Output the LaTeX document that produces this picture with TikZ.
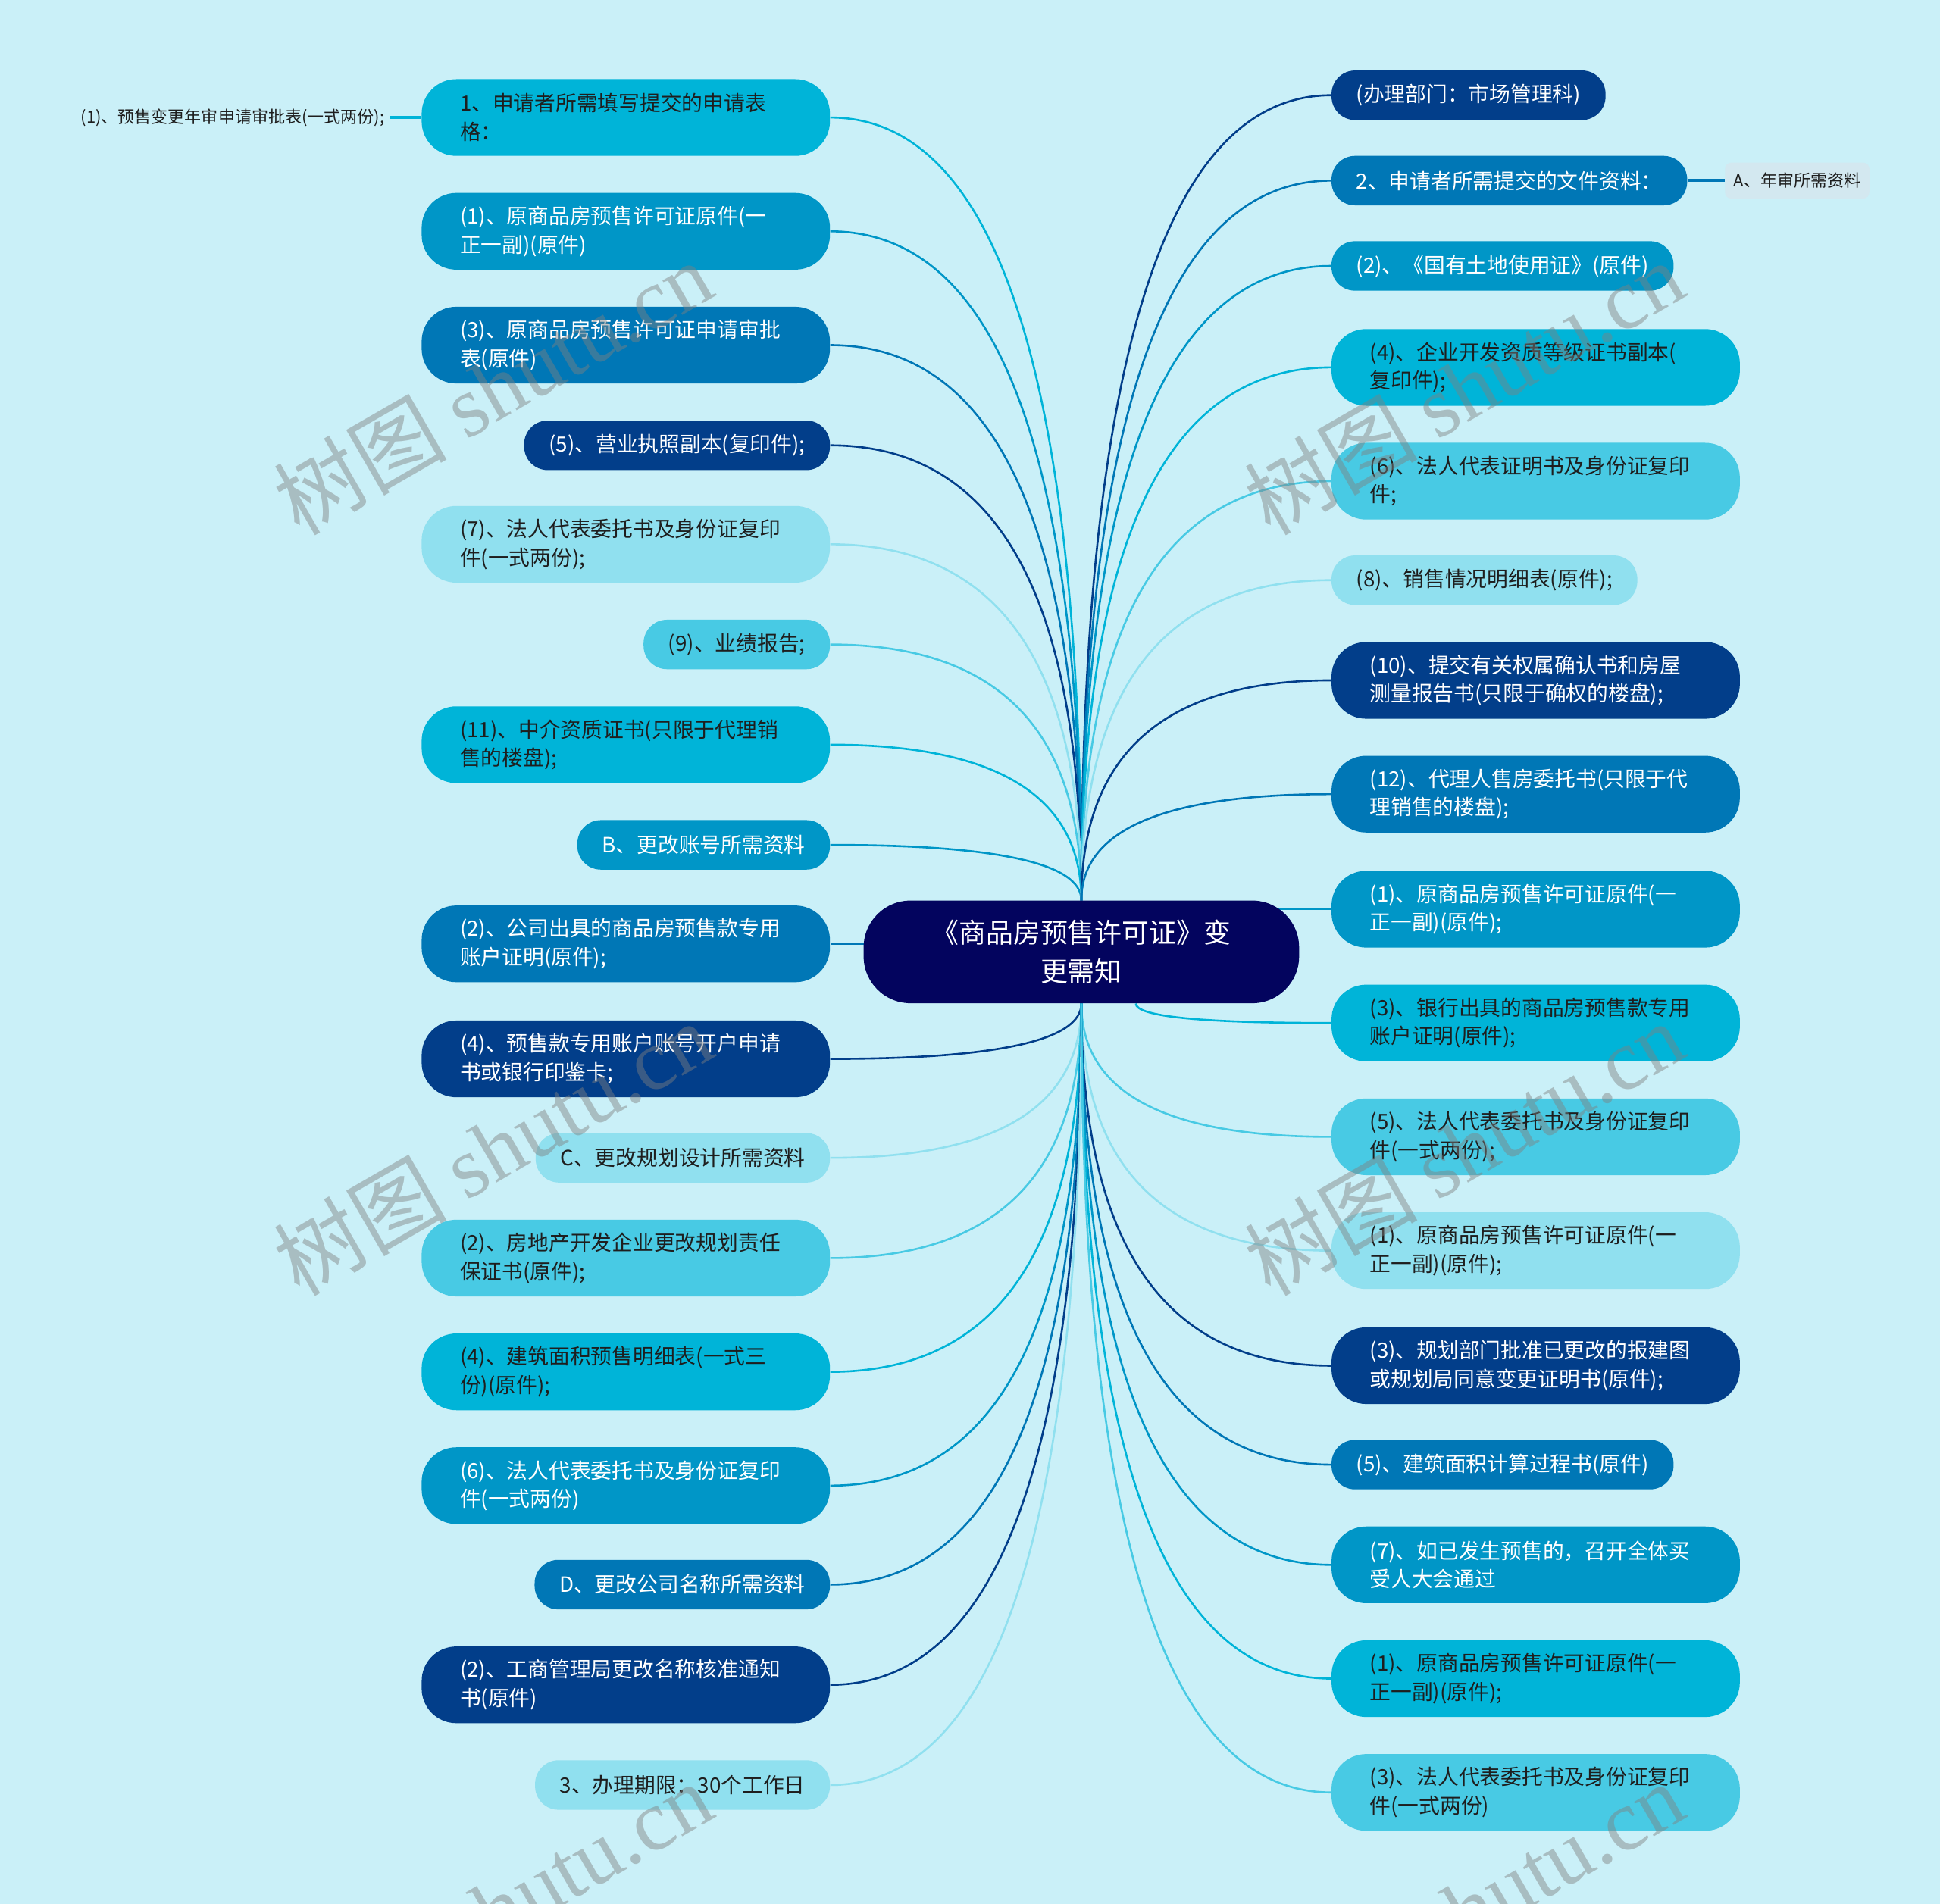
\documentclass[tikz,border=0pt]{standalone}
\usepackage{fontspec}
\setmainfont{Noto Sans CJK SC}
\newfontfamily\marksans{Noto Sans CJK SC}
\newfontfamily\markserif{Liberation Serif}
\usetikzlibrary{calc,backgrounds}
\definecolor{bgcol}{HTML}{CAF0F8}
\definecolor{rootcol}{HTML}{03045E}
\definecolor{c1}{HTML}{023E8A}
\definecolor{c2}{HTML}{0077B6}
\definecolor{c3}{HTML}{0096C7}
\definecolor{c4}{HTML}{00B4D8}
\definecolor{c5}{HTML}{48CAE4}
\definecolor{c6}{HTML}{90E0EF}
\definecolor{leafcol}{HTML}{D3E8F0}
\definecolor{inkcol}{HTML}{1E1E1E}
\begin{document}
\begin{tikzpicture}[x=1pt, y=-1pt,
    hub/.style={fill=rootcol, text=white, rounded corners=38pt, minimum width=352pt, minimum height=83pt, inner sep=0pt, align=center, font=\fontsize{22}{31}\selectfont},
    pill/.style={rounded corners=19pt, minimum height=40pt, inner xsep=20pt, inner ysep=0pt, font=\fontsize{17}{23}\selectfont},
    pill2/.style={rounded corners=28pt, minimum height=62pt, text width=268pt, inner xsep=31pt, inner ysep=0pt, align=left, font=\fontsize{17}{23}\selectfont},
    deep/.style={fill=#1, text=white},
    pale/.style={fill=#1, text=inkcol},
    leaf/.style={fill=leafcol, text=inkcol, rounded corners=5pt, minimum height=29pt, inner xsep=7pt, inner ysep=0pt, font=\fontsize{13.5}{16}\selectfont},
    note/.style={text=inkcol, inner xsep=4pt, inner ysep=0pt, font=\fontsize{13.5}{16}\selectfont},
    link/.style={draw=#1, line width=1.6pt},
    stub/.style={draw=#1, line width=2.6pt},
    branch/.style={to path={.. controls ($(\tikztostart)!0.667!(\tikztostart|-\tikztotarget)$) and ($(\tikztotarget)!0.667!(\tikztostart|-\tikztotarget)$) .. (\tikztotarget)}},
    stamp/.style={text=gray, opacity=0.45, rotate=30, inner sep=0pt, font=\fontsize{70}{70}\selectfont}]
    \useasboundingbox (0,0) rectangle (1568,1539);
    % centre
    \node (notice) [hub] at (874,769.5) {《商品房预售许可证》变\\更需知};
    % left side
    \node (l1)  [pill2, pale=c4, anchor=east] at (671,95)   {1、申请者所需填写提交的申请表\\格：};
    \node (l2)  [pill2, deep=c3, anchor=east] at (671,187)  {(1)、原商品房预售许可证原件(一\\正一副)(原件)};
    \node (l3)  [pill2, deep=c2, anchor=east] at (671,279)  {(3)、原商品房预售许可证申请审批\\表(原件)};
    \node (l4)  [pill,  deep=c1, anchor=east] at (671,360)  {(5)、营业执照副本(复印件);};
    \node (l5)  [pill2, pale=c6, anchor=east] at (671,440)  {(7)、法人代表委托书及身份证复印\\件(一式两份);};
    \node (l6)  [pill,  pale=c5, anchor=east] at (671,521)  {(9)、业绩报告;};
    \node (l7)  [pill2, pale=c4, anchor=east] at (671,602)  {(11)、中介资质证书(只限于代理销\\售的楼盘);};
    \node (l8)  [pill,  deep=c3, anchor=east] at (671,683)  {B、更改账号所需资料};
    \node (l9)  [pill2, deep=c2, anchor=east] at (671,763)  {(2)、公司出具的商品房预售款专用\\账户证明(原件);};
    \node (l10) [pill2, deep=c1, anchor=east] at (671,856)  {(4)、预售款专用账户账号开户申请\\书或银行印鉴卡;};
    \node (l11) [pill,  pale=c6, anchor=east] at (671,936)  {C、更改规划设计所需资料};
    \node (l12) [pill2, pale=c5, anchor=east] at (671,1017) {(2)、房地产开发企业更改规划责任\\保证书(原件);};
    \node (l13) [pill2, pale=c4, anchor=east] at (671,1109) {(4)、建筑面积预售明细表(一式三\\份)(原件);};
    \node (l14) [pill2, deep=c3, anchor=east] at (671,1201) {(6)、法人代表委托书及身份证复印\\件(一式两份)};
    \node (l15) [pill,  deep=c2, anchor=east] at (671,1281) {D、更改公司名称所需资料};
    \node (l16) [pill2, deep=c1, anchor=east] at (671,1362) {(2)、工商管理局更改名称核准通知\\书(原件)};
    \node (l17) [pill,  pale=c6, anchor=east] at (671,1443) {3、办理期限：30个工作日};
    \node (sub1) [note, anchor=east] at (315,95) {(1)、预售变更年审申请审批表(一式两份);};
    % right side
    \node (r1)  [pill,  deep=c1, anchor=west] at (1076,77)   {(办理部门：市场管理科)};
    \node (r2)  [pill,  deep=c2, anchor=west] at (1076,146)  {2、申请者所需提交的文件资料：};
    \node (r3)  [pill,  deep=c3, anchor=west] at (1076,215)  {(2)、《国有土地使用证》(原件)};
    \node (r4)  [pill2, pale=c4, anchor=west] at (1076,297)  {(4)、企业开发资质等级证书副本(\\复印件);};
    \node (r5)  [pill2, pale=c5, anchor=west] at (1076,389)  {(6)、法人代表证明书及身份证复印\\件;};
    \node (r6)  [pill,  pale=c6, anchor=west] at (1076,469)  {(8)、销售情况明细表(原件);};
    \node (r7)  [pill2, deep=c1, anchor=west] at (1076,550)  {(10)、提交有关权属确认书和房屋\\测量报告书(只限于确权的楼盘);};
    \node (r8)  [pill2, deep=c2, anchor=west] at (1076,642)  {(12)、代理人售房委托书(只限于代\\理销售的楼盘);};
    \node (r9)  [pill2, deep=c3, anchor=west] at (1076,735)  {(1)、原商品房预售许可证原件(一\\正一副)(原件);};
    \node (r10) [pill2, pale=c4, anchor=west] at (1076,827)  {(3)、银行出具的商品房预售款专用\\账户证明(原件);};
    \node (r11) [pill2, pale=c5, anchor=west] at (1076,919)  {(5)、法人代表委托书及身份证复印\\件(一式两份);};
    \node (r12) [pill2, pale=c6, anchor=west] at (1076,1011) {(1)、原商品房预售许可证原件(一\\正一副)(原件);};
    \node (r13) [pill2, deep=c1, anchor=west] at (1076,1104) {(3)、规划部门批准已更改的报建图\\或规划局同意变更证明书(原件);};
    \node (r14) [pill,  deep=c2, anchor=west] at (1076,1184) {(5)、建筑面积计算过程书(原件)};
    \node (r15) [pill2, deep=c3, anchor=west] at (1076,1265) {(7)、如已发生预售的，召开全体买\\受人大会通过};
    \node (r16) [pill2, pale=c4, anchor=west] at (1076,1357) {(1)、原商品房预售许可证原件(一\\正一副)(原件);};
    \node (r17) [pill2, pale=c5, anchor=west] at (1076,1449) {(3)、法人代表委托书及身份证复印\\件(一式两份)};
    \node (sub2) [leaf, anchor=west] at (1394,146) {A、年审所需资料};
    % connectors, under the nodes
    \begin{scope}[on background layer]
        \fill [bgcol] (0,0) rectangle (1568,1539);
        \draw [stub=c4] (l1.west) -- (sub1.east);
        \draw [stub=c2] (r2.east) -- (sub2.west);
        % upper half
        \draw [link=c4, branch] (notice.north) to (l1.east);
        \draw [link=c3, branch] (notice.north) to (l2.east);
        \draw [link=c2, branch] (notice.north) to (l3.east);
        \draw [link=c1, branch] (notice.north) to (l4.east);
        \draw [link=c6, branch] (notice.north) to (l5.east);
        \draw [link=c5, branch] (notice.north) to (l6.east);
        \draw [link=c4, branch] (notice.north) to (l7.east);
        \draw [link=c3, branch] (notice.north) to (l8.east);
        \draw [link=c1, branch] (notice.north) to (r1.west);
        \draw [link=c2, branch] (notice.north) to (r2.west);
        \draw [link=c3, branch] (notice.north) to (r3.west);
        \draw [link=c4, branch] (notice.north) to (r4.west);
        \draw [link=c5, branch] (notice.north) to (r5.west);
        \draw [link=c6, branch] (notice.north) to (r6.west);
        \draw [link=c1, branch] (notice.north) to (r7.west);
        \draw [link=c2, branch] (notice.north) to (r8.west);
        % level with the centre
        \draw [link=c2] (l9.east) -- (l9.east -| notice.center);
        \draw [link=c3] (r9.west) -- (r9.west -| notice.center);
        % lower half
        \draw [link=c1, branch] (notice.south) to (l10.east);
        \draw [link=c6, branch] (notice.south) to (l11.east);
        \draw [link=c5, branch] (notice.south) to (l12.east);
        \draw [link=c4, branch] (notice.south) to (l13.east);
        \draw [link=c3, branch] (notice.south) to (l14.east);
        \draw [link=c2, branch] (notice.south) to (l15.east);
        \draw [link=c1, branch] (notice.south) to (l16.east);
        \draw [link=c6, branch] (notice.south) to (l17.east);
        \draw [link=c4, branch] ([xshift=44pt]notice.south) to (r10.west);
        \draw [link=c5, branch] (notice.south) to (r11.west);
        \draw [link=c6, branch] (notice.south) to (r12.west);
        \draw [link=c1, branch] (notice.south) to (r13.west);
        \draw [link=c2, branch] (notice.south) to (r14.west);
        \draw [link=c3, branch] (notice.south) to (r15.west);
        \draw [link=c4, branch] (notice.south) to (r16.west);
        \draw [link=c5, branch] (notice.south) to (r17.west);
    \end{scope}
    % watermark
    \begin{scope}
        \clip (0,0) rectangle (1568,1539);
        \node (mark1) [stamp] at (398,313)   {\marksans 树图 \markserif shutu.cn};
        \node (mark2) [stamp] at (1183,313)  {\marksans 树图 \markserif shutu.cn};
        \node (mark3) [stamp] at (398,928)   {\marksans 树图 \markserif shutu.cn};
        \node (mark4) [stamp] at (1183,928)  {\marksans 树图 \markserif shutu.cn};
        \node (mark5) [stamp] at (398,1543)  {\marksans 树图 \markserif shutu.cn};
        \node (mark6) [stamp] at (1183,1543) {\marksans 树图 \markserif shutu.cn};
    \end{scope}
\end{tikzpicture}
\end{document}
